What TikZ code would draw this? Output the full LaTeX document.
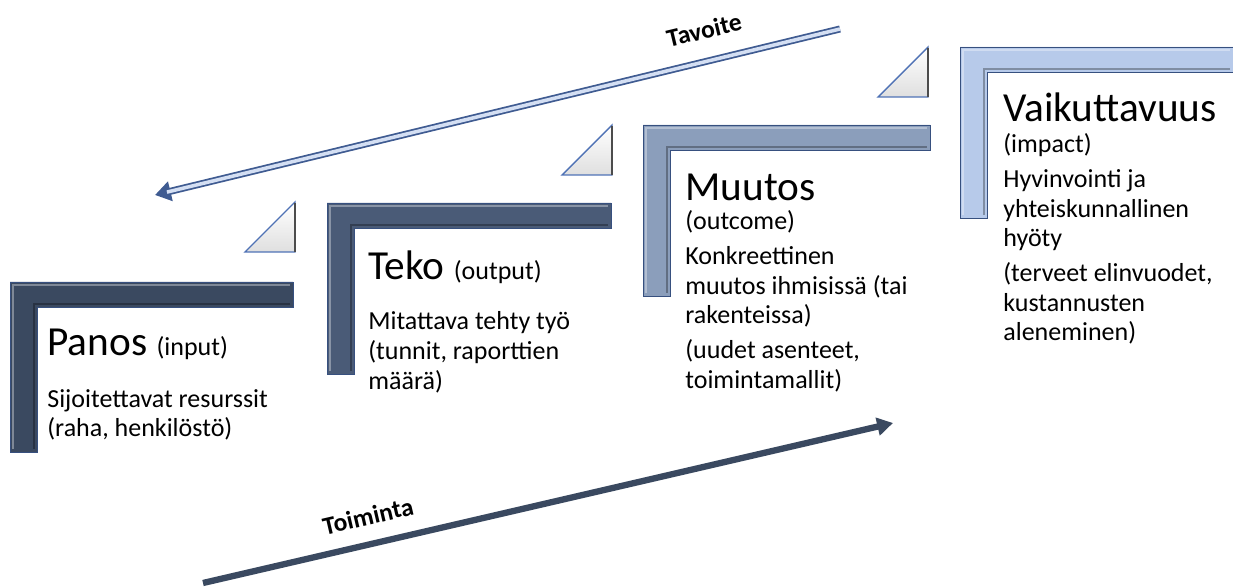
\documentclass[tikz,border=0pt]{standalone}
\usepackage{fontspec}
\setmainfont{Carlito}
\usetikzlibrary{arrows.meta}

\definecolor{stepA}{HTML}{3A4960}
\definecolor{stepB}{HTML}{4A5B77}
\definecolor{stepC}{HTML}{8B9EBB}
\definecolor{stepD}{HTML}{B7CAEA}
\definecolor{edgeblue}{HTML}{4F72B5}

\newcommand\notelines[1]{\begin{tabular}[t]{@{}l@{}}#1\end{tabular}}

\tikzset{
  steptitle/.style={anchor=base west, inner sep=0pt, font=\fontsize{23.5}{27}\selectfont},
  stepnote/.style={anchor=base west, inner sep=0pt, font=\fontsize{14.8}{16.8}\selectfont},
  flowlabel/.style={inner sep=0pt, font=\bfseries\fontsize{14.5}{17}\selectfont},
  stair/.style={draw=edgeblue!70!black, line width=0.5pt},
  wedge/.style={draw=edgeblue, line width=0.8pt, top color=white, bottom color=gray!25},
}

\begin{document}
\begin{tikzpicture}[x=0.02cm, y=-0.02cm]
\useasboundingbox (0,0) rectangle (1233,587);

% the four stair corners
\foreach \x/\y/\r/\b/\c in {10/282/293/452/stepA, 327/203/611/374/stepB, 643/125/930/296/stepC, 960/47/1233/218/stepD}{
  \fill[\c, stair] (\x,\y) -- (\r,\y) -- (\r,\y+25) -- (\x+27,\y+25) -- (\x+27,\b) -- (\x,\b) -- cycle;
  \draw[white, opacity=0.35, line width=1.2pt] (\x+3,\b-3) -- (\x+3,\y+3) -- (\r-3,\y+3);
  \draw[black, opacity=0.3, line width=1.2pt] (\r-3,\y+22) -- (\x+24,\y+22) -- (\x+24,\b-3);
}

% small wedges between the steps
\foreach \x/\y in {245/252, 562/175, 878/97}{
  \shade[wedge] (\x,\y) -- (\x+50,\y) -- (\x+50,\y-50) -- cycle;
  \draw[black!70, line width=1.2pt] (\x+50,\y-49) -- (\x+50,\y);
}

% texts of the steps
\node[steptitle] (panos) at (47,356) {Panos {\fontsize{14.8}{17}\selectfont(input)}};
\node[stepnote] (panosnote) at (47,407) {\notelines{Sijoitettavat resurssit\\(raha, henkilöstö)}};

\node[steptitle] (teko) at (368,280) {Teko {\fontsize{14.8}{17}\selectfont(output)}};
\node[stepnote] (tekonote) at (368,330) {\notelines{Mitattava tehty työ\\(tunnit, raporttien\\määrä)}};

\node[steptitle] (muutos) at (685,201) {Muutos};
\node[stepnote] (muutosnote) at (685,230) {\notelines{(outcome)\\[3pt]Konkreettinen\\muutos ihmisissä (tai\\rakenteissa)\\[3pt](uudet asenteet,\\toimintamallit)}};

\node[steptitle] (vaik) at (1003,122) {Vaikuttavuus};
\node[stepnote] (vaiknote) at (1003,153) {\notelines{(impact)\\[3pt]Hyvinvointi ja\\yhteiskunnallinen\\hyöty\\[3pt](terveet elinvuodet,\\kustannusten\\aleneminen)}};

% goal and action arrows
\coordinate (goalS) at (840,29);
\coordinate (goalE) at (155,195);
\draw[edgeblue!80!black, line width=4pt, -{Triangle[length=9pt, width=11pt]}] (goalS) -- (goalE);
\draw[stepD!60!white, line width=2pt, shorten >=7pt] (goalS) -- (goalE);
\node[flowlabel, rotate=13.5] (goal) at (704,30) {Tavoite};

\coordinate (actS) at (203,583);
\coordinate (actE) at (893,423);
\draw[stepA, line width=3.6pt, -{Triangle[length=9pt, width=10pt]}] (actS) -- (actE);
\node[flowlabel, rotate=13.1] (act) at (368,516) {Toiminta};

\end{tikzpicture}
\end{document}
